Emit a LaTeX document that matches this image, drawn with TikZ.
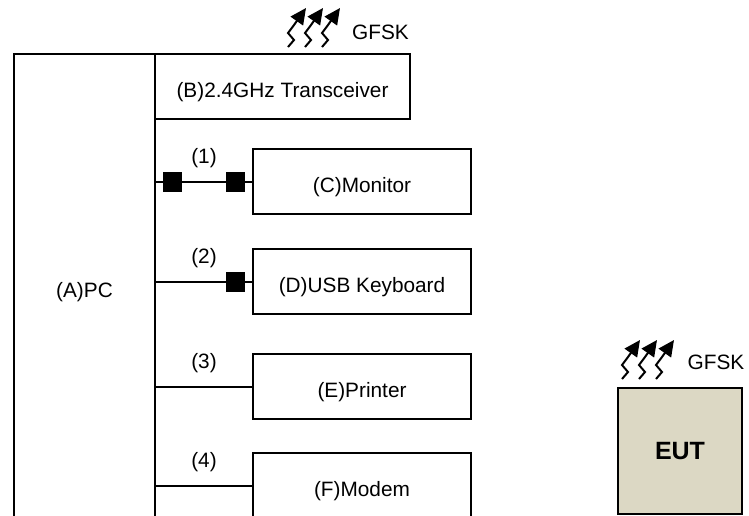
\documentclass[tikz,border=0pt]{standalone}
\usepackage{fontspec}
\setmainfont{Liberation Sans}
\usetikzlibrary{arrows.meta,calc}
\definecolor{eutfill}{RGB}{220,216,196}
\begin{document}
\begin{tikzpicture}[x=1pt,y=-1pt,line width=2pt,
  txt/.style={font=\fontsize{20.8}{24}\selectfont, inner sep=0pt},
  box/.style={draw, txt, minimum width=218pt, minimum height=65pt,
    text height=26.6pt, text depth=4pt},
  sq/.style={fill=black, draw=none, minimum width=19pt, minimum height=20pt, inner sep=0pt},
  lab/.style={txt, yshift=23.5pt},
  antenna/.pic={
    \foreach \i in {0,1,2}{
      \draw[line width=2pt, -{Triangle[length=16pt,width=15pt]}]
        (17*\i,0) -- ++(6,-7) -- ++(-6,-7) -- ++(6,-8) -- ++(12,-17);
    }}
]
\useasboundingbox (0,0) rectangle (749,515);
\clip (0,0) rectangle (749,515);

% PC and transceiver
\node[draw, txt, minimum width=141pt, minimum height=476pt] (PC) at (84.5,292) {(A)PC};
\node[box, minimum width=255pt] (B) at (282.5,86.5) {(B)2.4GHz Transceiver};

% peripherals
\node[box] (C) at (362,181.5) {(C)Monitor};
\node[box] (D) at (362,281.5) {(D)USB Keyboard};
\node[box] (E) at (362,386.5) {(E)Printer};
\node[box] (F) at (362,485.5) {(F)Modem};

% connectors
\draw (PC.east |- C.west) -- node[sq, pos=0.17] (s1) {} node[sq, pos=0.83] (s2) {}
  node[lab, midway] (l1) {(1)} (C.west);
\draw (PC.east |- D.west) -- node[sq, pos=0.83] (s3) {}
  node[lab, midway] (l2) {(2)} (D.west);
\draw (PC.east |- E.west) -- node[lab, midway] (l3) {(3)} (E.west);
\draw (PC.east |- F.west) -- node[lab, midway] (l4) {(4)} (F.west);

% radio on transceiver
\pic at (288,47) {antenna};
\node[txt] (g1) at (380.5,32) {GFSK};

% EUT
\node[draw, fill=eutfill, minimum width=124pt, minimum height=126pt,
  font=\fontsize{25}{28}\selectfont\bfseries] (EUT) at (680,451) {EUT};
\pic at (622,379) {antenna};
\node[txt] (g2) at (716,362.5) {GFSK};
\end{tikzpicture}
\end{document}
